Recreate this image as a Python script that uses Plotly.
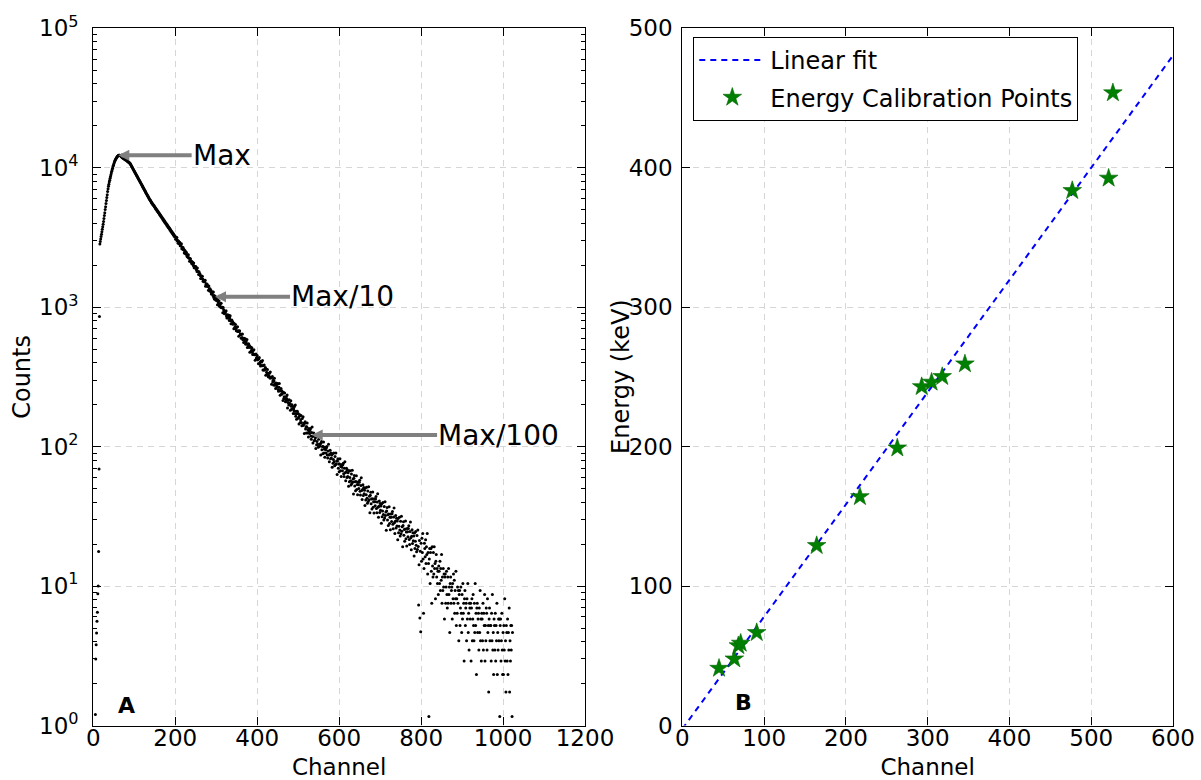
import math
import plotly.graph_objects as go

FONT = "DejaVu Sans"

# ---------------- Panel A : spectrum (counts per channel, channel = index) ----------------
spectrum_counts = [
    None, None, None, None, None, 1.2, 3.0, 3.8, 4.6, 5.6,                      # 0
    6.5, 8.8, 10.0, 17.7, 69, 857, 2840, 2960, 3080, 3210,                      # 10
    3340, 3480, 3620, 3780, 3940, 4110, 4320, 4540, 4760, 5010,                 # 20
    5260, 5530, 5810, 6110, 6410, 6750, 7080, 7360, 7620, 7890,                 # 30
    8150, 8390, 8650, 8910, 9160, 9420, 9680, 9930, 10190, 10420,               # 40
    10640, 10860, 11070, 11250, 11430, 11590, 11720, 11860, 11970, 12080,       # 50
    12160, 12220, 12270, 12300, 12300, 12270, 12220, 12160, 12080, 12000,       # 60
    11900, 11800, 11790, 11700, 11680, 11600, 11570, 11480, 11460, 11380,       # 70
    11350, 11300, 11220, 11180, 11090, 11050, 10970, 10930, 10850, 10790,       # 80
    10730, 10570, 10470, 10310, 10200, 10060, 9960, 9810, 9720, 9570,           # 90
    9480, 9320, 9250, 9090, 9020, 8870, 8800, 8650, 8580, 8440,                 # 100
    8370, 8230, 8170, 8030, 7970, 7830, 7770, 7640, 7580, 7450,                 # 110
    7400, 7260, 7210, 7080, 7040, 6900, 6860, 6730, 6690, 6560,                 # 120
    6520, 6400, 6370, 6250, 6220, 6100, 6070, 5950, 5930, 5810,                 # 130
    5790, 5690, 5680, 5570, 5570, 5460, 5460, 5350, 5350, 5250,                 # 140
    5250, 5140, 5150, 5040, 5050, 4940, 4950, 4840, 4860, 4750,                 # 150
    4760, 4650, 4670, 4560, 4580, 4470, 4490, 4380, 4400, 4300,                 # 160
    4310, 4210, 4230, 4120, 4150, 4040, 4070, 3960, 3990, 3890,                 # 170
    3910, 3810, 3840, 3730, 3760, 3660, 3690, 3580, 3620, 3520,                 # 180
    3540, 3450, 3480, 3380, 3410, 3310, 3350, 3240, 3280, 3180,                 # 190
    3210, 3076, 3176, 3070, 3155, 2979, 3002, 2877, 2977, 2923,                 # 200
    2848, 2921, 2762, 2822, 2754, 2847, 2628, 2687, 2616, 2679,                 # 210
    2584, 2608, 2450, 2540, 2539, 2419, 2438, 2481, 2369, 2311,                 # 220
    2381, 2283, 2373, 2253, 2257, 2132, 2224, 2227, 2127, 2140,                 # 230
    2053, 2105, 2107, 2031, 1987, 2072, 1917, 1965, 1954, 1951,                 # 240
    1955, 1860, 1887, 1802, 1908, 1801, 1794, 1714, 1792, 1709,                 # 250
    1747, 1688, 1606, 1682, 1609, 1667, 1665, 1594, 1536, 1547,                 # 260
    1519, 1562, 1524, 1563, 1411, 1456, 1473, 1416, 1463, 1414,                 # 270
    1407, 1325, 1421, 1354, 1308, 1354, 1299, 1320, 1242, 1279,                 # 280
    1253, 1285, 1215, 1285, 1175, 1213, 1139, 1176, 1191, 1128,                 # 290
    1162, 1117, 1130, 1043, 1125, 1082, 1042, 1106, 1016, 1028,                 # 300
    1058, 999, 1065, 991, 999, 998, 912, 996, 957, 925,                         # 310
    897, 936, 906, 932, 944, 866, 838, 875, 883, 863,                           # 320
    833, 874, 803, 838, 869, 803, 762, 795, 810, 760,                           # 330
    788, 755, 766, 699, 763, 709, 724, 751, 700, 678,                           # 340
    718, 674, 725, 670, 677, 618, 670, 677, 631, 641,                           # 350
    640, 598, 639, 606, 642, 584, 597, 558, 599, 584,                           # 360
    563, 594, 542, 568, 549, 587, 513, 539, 519, 546,                           # 370
    516, 531, 475, 515, 519, 479, 491, 512, 475, 457,                           # 380
    489, 457, 496, 455, 460, 417, 457, 462, 428, 437,                           # 390
    451, 419, 427, 393, 426, 436, 393, 402, 379, 409,                           # 400
    381, 405, 380, 414, 354, 381, 354, 385, 354, 361,                           # 410
    370, 325, 360, 342, 329, 358, 335, 317, 336, 321,                           # 420
    336, 310, 343, 310, 315, 280, 313, 318, 291, 299,                           # 430
    277, 295, 309, 275, 283, 261, 286, 278, 268, 280,                           # 440
    284, 257, 249, 267, 284, 253, 234, 251, 261, 237,                           # 450
    252, 238, 243, 214, 245, 221, 228, 242, 220, 210,                           # 460
    212, 229, 220, 235, 189, 207, 215, 199, 217, 204,                           # 470
    204, 182, 213, 195, 185, 200, 186, 194, 173, 187,                           # 480
    181, 194, 173, 199, 165, 179, 157, 172, 179, 160,                           # 490
    173, 161, 145, 165, 169, 149, 156, 167, 149, 141,                           # 500
    159, 142, 164, 143, 147, 124, 147, 151, 134, 139,                           # 510
    125, 139, 148, 125, 132, 117, 135, 129, 124, 132,                           # 520
    135, 119, 113, 126, 138, 118, 106, 119, 125, 110,                           # 530
    120, 111, 116, 97, 118, 103, 109, 119, 104, 99,                             # 540
    113, 100, 118, 101, 105, 87, 106, 109, 95, 100,                             # 550
    89, 100, 108, 90, 96, 84, 99, 95, 90, 98,                                   # 560
    100, 87, 83, 93, 104, 87, 78, 88, 94, 82,                                   # 570
    90, 83, 87, 71, 89, 76, 81, 90, 78, 73,                                     # 580
    85, 74, 90, 75, 79, 63, 79, 82, 70, 75,                                     # 590
    66, 75, 82, 67, 72, 61, 74, 71, 67, 74,                                     # 600
    76, 64, 61, 70, 78, 65, 57, 66, 70, 60,                                     # 610
    68, 61, 65, 52, 67, 56, 60, 67, 57, 53,                                     # 620
    63.6, 54.3, 67.7, 55.8, 58.6, 45.8, 59.4, 62.1, 52.1, 55.9,                 # 630
    48.3, 56.2, 61.9, 49.3, 53.5, 45.1, 55.7, 53.3, 50.0, 55.5,                 # 640
    57.3, 47.8, 45.0, 52.6, 59.7, 48.4, 41.8, 49.2, 53.2, 44.7,                 # 650
    50.9, 45.9, 48.7, 37.8, 50.4, 41.4, 45.2, 51.1, 42.7, 39.3,                 # 660
    48.0, 40.4, 51.5, 41.6, 44.0, 33.5, 44.8, 47.1, 38.9, 42.1,                 # 670
    35.7, 42.3, 47.2, 36.7, 40.2, 33.4, 42.2, 40.2, 37.6, 42.1,                 # 680
    43.8, 36.0, 33.6, 40.1, 45.9, 36.7, 31.1, 37.4, 40.7, 33.7,                 # 690
    39.1, 34.9, 37.5, 28.2, 38.9, 31.4, 34.6, 39.8, 32.6, 29.8,                 # 700
    37.2, 30.8, 40.2, 32.0, 34.0, 25.1, 34.6, 36.6, 29.8, 32.5,                 # 710
    27.2, 32.9, 37.0, 28.1, 31.2, 25.3, 32.9, 31.2, 29.0, 33.0,                 # 720
    34.3, 27.7, 25.8, 31.3, 36.3, 28.5, 23.8, 29.1, 32.0, 26.1,                 # 730
    30.6, 27.0, 29.3, 21.5, 30.5, 24.1, 26.9, 31.2, 25.2, 22.9,                 # 740
    29.1, 23.7, 31.7, 24.7, 26.6, 19.1, 27.2, 28.9, 23.1, 25.4,                 # 750
    21.0, 25.7, 29.3, 21.8, 24.4, 19.4, 25.9, 24.5, 22.6, 25.9,                 # 760
    27.1, 21.6, 19.9, 24.6, 28.8, 22.2, 18.2, 22.8, 25.3, 20.2,                 # 770
    24.1, 21.1, 22.9, 16.4, 24.0, 18.6, 21.0, 24.6, 19.6, 17.6,                 # 780
    23.0, 18.3, 25.2, 19.2, 7.3, 14.2, 21.2, 5.9, 17.8, 4.7,                    # 790
    20.3, 15.08, 22.04, 17.4, 23.78, 15.66, 6.38, 13.34, 20.3, 18.56,           # 800
    16.24, 21.46, 14.5, 19.14, 16.82, 23.78, 12.18, 17.4, 14.5, 1.16,           # 810
    15.66, 18.56, 10.44, 17.4, 18.56, 12.76, 7.54, 19.14, 13.92, 11.6,          # 820
    17.4, 12.18, 19.14, 13.34, 14.5, 8.12, 15.08, 16.82, 11.6, 13.34,           # 830
    10.44, 12.76, 8.7, 13.92, 12.76, 10.44, 15.08, 9.28, 13.34, 11.02,          # 840
    16.82, 7.54, 11.6, 9.28, 13.34, 9.86, 12.18, 5.8, 11.6, 12.18,              # 850
    7.54, 9.86, 12.76, 8.7, 6.96, 11.6, 7.54, 13.34, 8.7, 9.86,                 # 860
    4.64, 10.44, 11.6, 7.54, 9.28, 9.86, 5.8, 10.44, 8.12, 12.18,               # 870
    7.54, 11.02, 6.38, 9.28, 8.12, 12.76, 5.22, 8.12, 6.38, 9.86,               # 880
    7.54, 9.28, 4.06, 8.7, 9.28, 5.22, 6.96, 9.86, 6.38, 4.64,                  # 890
    8.7, 5.8, 10.44, 6.38, 7.54, 2.9, 8.12, 9.28, 5.22, 6.96,                   # 900
    7.54, 4.06, 8.12, 5.8, 10.44, 4.64, 6.38, 3.48, 7.54, 6.96,                 # 910
    5.8, 7.54, 2.9, 6.96, 8.12, 4.06, 5.8, 8.7, 5.22, 4.06,                     # 920
    7.54, 4.64, 10.44, 5.22, 6.38, 2.32, 6.96, 7.54, 4.64, 5.8,                 # 930
    6.38, 3.48, 6.96, 4.64, 9.28, 4.06, 5.8, 2.9, 6.38, 5.8,                    # 940
    4.06, 7.54, 3.48, 6.38, 5.22, 8.7, 2.9, 5.22, 4.06, 6.96,                   # 950
    6.38, 3.48, 8.12, 4.64, 5.22, 1.74, 5.8, 6.96, 4.06, 5.22,                  # 960
    5.22, 2.9, 6.38, 4.06, 8.7, 3.48, 4.64, 2.32, 5.8, 5.22,                    # 970
    3.48, 6.38, 2.9, 5.22, 4.06, 7.54, 2.32, 4.64, 3.48, 5.8,                   # 980
    4.06, 5.8, 1.16, 5.22, 5.8, 2.9, 4.06, 6.38, 3.48, 2.32,                    # 990
    4.64, 2.32, 5.22, 3.48, 8.12, 2.9, 4.06, 1.74, 5.22, 4.64,                  # 1000
    2.9, 5.8, 2.32, 4.64, 3.48, 6.96, 1.74, 4.06, 2.9, 5.22,                    # 1010
    3.48, 5.22, 1.16, 4.64,                                                     # 1020
]
channels = list(range(len(spectrum_counts)))

# arrows on panel A
arrow_labels = ["Max", "Max/10", "Max/100"]
arrow_channels = [61, 297, 533]
arrow_counts = [12300, 1186, 121]
arrow_text_channels = [240, 480, 839]

# ---------------- Panel B : energy calibration ----------------
cal_channel = [44.9, 63.6, 68.5, 71.4, 91.0, 164.3, 217.2, 262.9, 292.7, 304.8, 317.8, 345.6, 476.8, 521.3, 526.5]
cal_energy = [41.0, 47.7, 57.2, 59.0, 66.6, 129.0, 164.1, 199.0, 243.0, 246.2, 250.2, 259.3, 383.6, 392.5, 453.7]
fit_channel = [0, 600]
fit_energy = [-2.5, 480.5]

# tick labels
a_xticks = [0, 200, 400, 600, 800, 1000, 1200]
a_yticks = [1, 10, 100, 1000, 10000, 100000]
a_yticktext = ["10<sup>0</sup>", "10<sup>1</sup>", "10<sup>2</sup>", "10<sup>3</sup>", "10<sup>4</sup>", "10<sup>5</sup>"]
b_xticks = [0, 100, 200, 300, 400, 500, 600]
b_yticks = [0, 100, 200, 300, 400, 500]

W, H = 1201, 780
# plot-area pixel boxes
A_LEFT, A_RIGHT = 93.3, 585.0
B_LEFT, B_RIGHT = 682.3, 1173.0
TOP, BOTTOM = 28.3, 725.5

fig = go.Figure()
fig.add_trace(go.Scatter(
    x=channels, y=spectrum_counts, mode="markers",
    marker=dict(size=3, color="black", line=dict(width=0)),
    showlegend=False, xaxis="x", yaxis="y", hoverinfo="skip"))
fig.add_trace(go.Scatter(
    x=fit_channel, y=fit_energy, mode="lines", name="Linear fit",
    line=dict(color="#0000ff", width=2, dash="6px,5px"),
    xaxis="x2", yaxis="y2", legendgroup="fit"))
fig.add_trace(go.Scatter(
    x=cal_channel, y=cal_energy, mode="markers", name="Energy Calibration Points",
    marker=dict(symbol="star", size=14, color="#008000", line=dict(color="#006400", width=0.6)),
    xaxis="x2", yaxis="y2", legendgroup="cal"))

axis_common = dict(
    showline=True, linecolor="black", linewidth=1.3, mirror="ticks",
    ticks="inside", ticklen=8, tickwidth=1.1, tickcolor="black",
    showgrid=True, gridcolor="#d6d6d6", gridwidth=1, griddash="6px,5px",
    zeroline=False, automargin=False,
    tickfont=dict(family=FONT, size=23, color="black"),
)
title_font = dict(family=FONT, size=24, color="black")
xtitle_font = dict(family=FONT, size=23, color="black")

minor_log = [m * 10 ** d for d in range(0, 5) for m in range(2, 10)]

layout_axes = dict(
    xaxis=dict(axis_common, domain=[A_LEFT / W, A_RIGHT / W], range=[0, 1200],
               tickmode="array", tickvals=a_xticks, ticktext=[str(v) for v in a_xticks],
               anchor="y", ticklabelstandoff=-8,
               title=dict(text="Channel", font=xtitle_font, standoff=16)),
    yaxis=dict(axis_common, domain=[1 - BOTTOM / H, 1 - TOP / H], type="log", range=[0, 5],
               tickmode="array", tickvals=a_yticks, ticktext=a_yticktext,
               anchor="x", ticklabelstandoff=9,
               minor=dict(tickmode="array", tickvals=minor_log, ticks="inside", ticklen=4,
                          tickcolor="black", tickwidth=1, showgrid=False),
               title=dict(text="Counts", font=title_font, standoff=1)),
    xaxis2=dict(axis_common, domain=[B_LEFT / W, B_RIGHT / W], range=[0, 600],
                tickmode="array", tickvals=b_xticks, ticktext=[str(v) for v in b_xticks],
                anchor="y2", ticklabelstandoff=-8,
                title=dict(text="Channel", font=xtitle_font, standoff=16)),
    yaxis2=dict(axis_common, domain=[1 - BOTTOM / H, 1 - TOP / H], range=[0, 500],
                tickmode="array", tickvals=b_yticks, ticktext=[str(v) for v in b_yticks],
                anchor="x2", ticklabelstandoff=4),
)

annotations = []
for lab, hx, hy, tx in zip(arrow_labels, arrow_channels, arrow_counts, arrow_text_channels):
    ly = math.log10(hy)
    annotations.append(dict(
        x=hx, y=ly, xref="x", yref="y", ax=tx, ay=ly, axref="x", ayref="y",
        text=lab, showarrow=True, arrowhead=2, arrowsize=0.55, arrowwidth=4,
        arrowcolor="#808080", standoff=0, xanchor="left", yanchor="middle",
        borderpad=0, font=dict(family=FONT, size=28, color="black")))
annotations.append(dict(text="<b>A</b>", x=0.068, y=0.029, xref="x domain", yref="y domain",
                        showarrow=False, xanchor="center", yanchor="middle",
                        font=dict(family=FONT, size=22, color="black")))
annotations.append(dict(text="<b>B</b>", x=0.124, y=0.033, xref="x2 domain", yref="y2 domain",
                        showarrow=False, xanchor="center", yanchor="middle",
                        font=dict(family=FONT, size=22, color="black")))
# y-axis title of panel B (placed as in the reference)
annotations.append(dict(text="Energy (keV)", x=621 / W, y=1 - (TOP + BOTTOM) / 2 / H,
                        xref="paper", yref="paper", showarrow=False, textangle=-90,
                        xanchor="center", yanchor="middle", font=title_font))

fig.update_layout(
    template="none",
    width=W, height=H,
    margin=dict(l=0, r=0, t=0, b=0),
    paper_bgcolor="white", plot_bgcolor="white",
    font=dict(family=FONT, size=23, color="black"),
    showlegend=True,
    legend=dict(x=693.3 / W, y=1 - 37.0 / H, xanchor="left", yanchor="top",
                bordercolor="black", borderwidth=1, bgcolor="white",
                font=dict(family=FONT, size=24, color="black"),
                itemwidth=66, tracegroupgap=3, traceorder="grouped"),
    annotations=annotations,
    **layout_axes,
)

fig.write_html("out.html")
